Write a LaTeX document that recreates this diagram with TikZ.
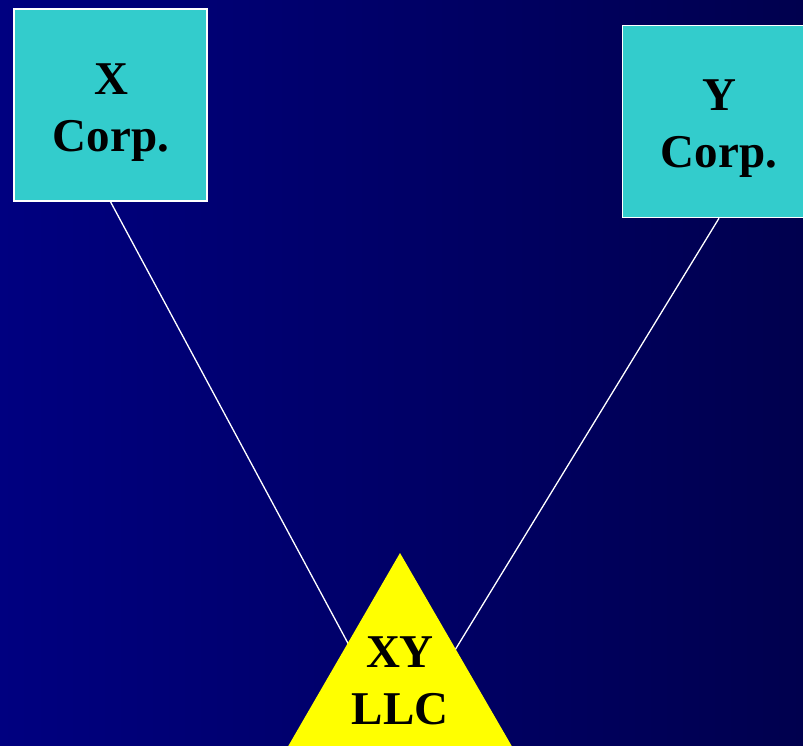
\documentclass[tikz,border=0pt]{standalone}
\usepackage{fontspec}
\setmainfont{Liberation Serif}
\definecolor{bgleft}{RGB}{0,0,128}
\definecolor{bgright}{RGB}{0,0,78}
\definecolor{corpfill}{RGB}{51,204,204}
\definecolor{llcfill}{RGB}{255,255,0}
\begin{document}
\begin{tikzpicture}[x=1pt,y=-1pt,
  corpbox/.style={draw=white,line width=1.5pt,fill=corpfill,rectangle,
    minimum width=193pt,minimum height=192pt,inner sep=0pt},
  label/.style={align=center,font=\fontsize{47}{57}\selectfont\bfseries,text=black,inner sep=0pt},
  link/.style={draw=white,line width=1.3pt}]
  \useasboundingbox (0,0) rectangle (803,746);
  \shade[left color=bgleft,right color=bgright] (0,0) rectangle (803,746);
  \clip (0,0) rectangle (803,746);
  % owners
  \node[corpbox] (xcorp) at (110.5,105) {};
  \node[corpbox] (ycorp) at (719,121.5) {};
  \coordinate (llcin) at (400,740);
  % ownership lines
  \draw[link] (xcorp.south) -- (llcin);
  \draw[link] (ycorp.south) -- (llcin);
  % the LLC
  \fill[llcfill] (400,553) -- (257,800) -- (543,800) -- cycle;
  % labels (anchored on the baseline of the last line)
  \node[label,anchor=base] (xt) at (111,152) {X\\Corp.};
  \node[label,anchor=base] (yt) at (719,168) {Y\\Corp.};
  \node[label,anchor=base] (lt) at (400,724) {XY\\LLC};
\end{tikzpicture}
\end{document}
